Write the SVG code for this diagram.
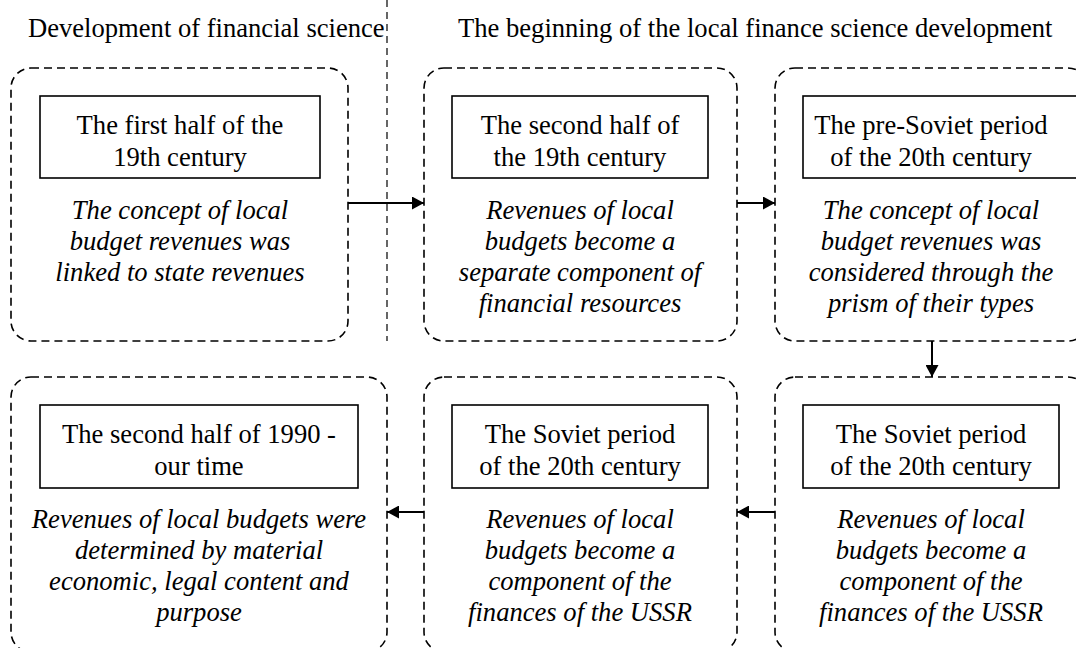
<svg xmlns="http://www.w3.org/2000/svg" width="1076" height="648" viewBox="0 0 1076 648">
  <defs>
    <marker id="arrow" markerWidth="12" markerHeight="13" refX="12" refY="6.5" orient="auto" markerUnits="userSpaceOnUse">
      <path d="M0,0 L12,6.5 L0,13 Z" fill="#000"/>
    </marker>
  </defs>
  <style>
    text { font-family: "Liberation Serif", "Times New Roman", serif; font-size: 26.6px; fill: #000; }
    .head { text-anchor: start; }
    .title { text-anchor: middle; }
    .desc { text-anchor: middle; font-style: italic; }
    .frame { fill: none; stroke: #000; stroke-width: 1.6; stroke-dasharray: 8 5; }
    .label { fill: #fff; stroke: #000; stroke-width: 1.6; }
    .divider { stroke: #000; stroke-width: 1.2; stroke-dasharray: 7 5; }
    .link { stroke: #000; stroke-width: 2; fill: none; marker-end: url(#arrow); }
  </style>

  <rect width="1076" height="648" fill="#fff"/>

  <!-- section headings and separator -->
  <g id="headings">
    <text class="head" x="28" y="37">Development of financial science</text>
    <text class="head" x="458" y="37">The beginning of the local finance science development</text>
    <line class="divider" x1="387" y1="0" x2="387" y2="341"/>
  </g>

  <!-- top row -->
  <g id="node-first-half-19th">
    <rect class="frame" x="11" y="68" width="337" height="273" rx="20"/>
    <rect class="label" x="40" y="96" width="280" height="82"/>
    <text class="title" x="180" y="134">The first half of the</text>
    <text class="title" x="180" y="166">19th century</text>
    <text class="desc" x="180" y="219">The concept of local</text>
    <text class="desc" x="180" y="250">budget revenues was</text>
    <text class="desc" x="180" y="281">linked to state revenues</text>
  </g>

  <g id="node-second-half-19th">
    <rect class="frame" x="424" y="68" width="313" height="273" rx="20"/>
    <rect class="label" x="452" y="96" width="256" height="82"/>
    <text class="title" x="580" y="134">The second half of</text>
    <text class="title" x="580" y="166">the 19th century</text>
    <text class="desc" x="580" y="219">Revenues of local</text>
    <text class="desc" x="580" y="250">budgets become a</text>
    <text class="desc" x="580" y="281">separate component of</text>
    <text class="desc" x="580" y="312">financial resources</text>
  </g>

  <g id="node-pre-soviet">
    <rect class="frame" x="775" y="68" width="313" height="273" rx="20"/>
    <rect class="label" x="803" y="96" width="290" height="82"/>
    <text class="title" x="931" y="134">The pre-Soviet period</text>
    <text class="title" x="931" y="166">of the 20th century</text>
    <text class="desc" x="931" y="219">The concept of local</text>
    <text class="desc" x="931" y="250">budget revenues was</text>
    <text class="desc" x="931" y="281">considered through the</text>
    <text class="desc" x="931" y="312">prism of their types</text>
  </g>

  <!-- bottom row -->
  <g id="node-soviet-right">
    <rect class="frame" x="775" y="377" width="313" height="275" rx="20"/>
    <rect class="label" x="803" y="405" width="256" height="83"/>
    <text class="title" x="931" y="443">The Soviet period</text>
    <text class="title" x="931" y="475">of the 20th century</text>
    <text class="desc" x="931" y="528">Revenues of local</text>
    <text class="desc" x="931" y="559">budgets become a</text>
    <text class="desc" x="931" y="590">component of the</text>
    <text class="desc" x="931" y="621">finances of the USSR</text>
  </g>

  <g id="node-soviet-middle">
    <rect class="frame" x="424" y="377" width="313" height="275" rx="20"/>
    <rect class="label" x="452" y="405" width="256" height="83"/>
    <text class="title" x="580" y="443">The Soviet period</text>
    <text class="title" x="580" y="475">of the 20th century</text>
    <text class="desc" x="580" y="528">Revenues of local</text>
    <text class="desc" x="580" y="559">budgets become a</text>
    <text class="desc" x="580" y="590">component of the</text>
    <text class="desc" x="580" y="621">finances of the USSR</text>
  </g>

  <g id="node-1990-present">
    <rect class="frame" x="11" y="377" width="376" height="275" rx="20"/>
    <rect class="label" x="40" y="405" width="318" height="83"/>
    <text class="title" x="199" y="443">The second half of 1990 -</text>
    <text class="title" x="199" y="475">our time</text>
    <text class="desc" x="199" y="528">Revenues of local budgets were</text>
    <text class="desc" x="199" y="559">determined by material</text>
    <text class="desc" x="199" y="590">economic, legal content and</text>
    <text class="desc" x="199" y="621">purpose</text>
  </g>

  <!-- connectors -->
  <g id="connectors">
    <line class="link" x1="348" y1="203" x2="424" y2="203"/>
    <line class="link" x1="737" y1="203" x2="775" y2="203"/>
    <line class="link" x1="932" y1="341" x2="932" y2="377"/>
    <line class="link" x1="775" y1="512" x2="737" y2="512"/>
    <line class="link" x1="424" y1="512" x2="387" y2="512"/>
  </g>
</svg>
